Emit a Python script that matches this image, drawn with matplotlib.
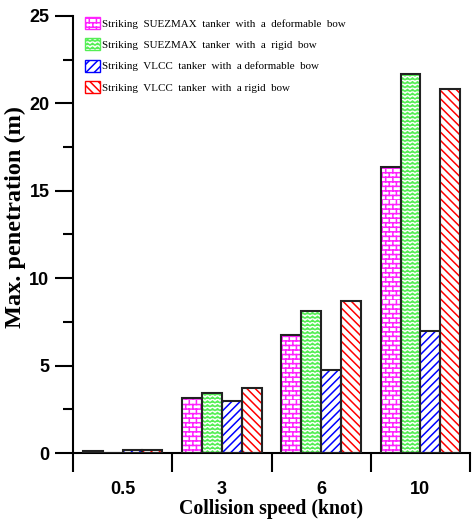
import numpy as np
import matplotlib
matplotlib.use("Agg")
import matplotlib.pyplot as plt
import matplotlib.hatch as mhatch
from matplotlib.path import Path
from matplotlib.ticker import MultipleLocator, FixedLocator

# ---------------- data ----------------
speeds = ["0.5", "3", "6", "10"]
series_names = [
    "Striking  SUEZMAX  tanker  with  a  deformable  bow",
    "Striking  SUEZMAX  tanker  with  a  rigid  bow",
    "Striking  VLCC  tanker  with  a deformable  bow",
    "Striking  VLCC  tanker  with  a rigid  bow",
]
suezmax_deformable = [0.12, 3.13, 6.77, 16.36]
suezmax_rigid = [0.0, 3.45, 8.10, 21.66]
vlcc_deformable = [0.18, 2.99, 4.75, 7.0]
vlcc_rigid = [0.18, 3.73, 8.70, 20.84]

# ---------------- custom hatches ----------------
class BrickHatch(mhatch.HatchPatternBase):
    """brick pattern, triggered by 'o'"""
    def __init__(self, hatch, density):
        n = hatch.count('o')
        self.rows = 22 * n
        self.cols = 14 * n
        self.num_vertices = (self.rows * 2 + self.rows * self.cols * 2) if n else 0

    def set_vertices_and_codes(self, vertices, codes):
        r, c = self.rows, self.cols
        i = 0
        h = 1.0 / r
        for k in range(r):
            y = k * h
            vertices[i] = (0.0, y); codes[i] = Path.MOVETO; i += 1
            vertices[i] = (1.0, y); codes[i] = Path.LINETO; i += 1
            off = 0.0 if k % 2 == 0 else 0.5
            for j in range(c):
                xx = (j + off) / c
                vertices[i] = (xx, y); codes[i] = Path.MOVETO; i += 1
                vertices[i] = (xx, y + h); codes[i] = Path.LINETO; i += 1


class WaveHatch(mhatch.HatchPatternBase):
    """wavy pattern, triggered by '*'"""
    def __init__(self, hatch, density):
        n = hatch.count('*')
        self.rows = 26 * n
        self.waves = 20
        self.pts = self.waves * 2 + 1
        self.num_vertices = self.rows * self.pts if n else 0

    def set_vertices_and_codes(self, vertices, codes):
        i = 0
        amp = 0.009
        for k in range(self.rows):
            y0 = (k + 0.5) / self.rows
            for j in range(self.pts):
                xx = j / (self.pts - 1)
                y = y0 + (amp if j % 2 else -amp)
                vertices[i] = (xx, y)
                codes[i] = Path.MOVETO if j == 0 else Path.LINETO
                i += 1


mhatch._hatch_types = [mhatch.HorizontalHatch, mhatch.VerticalHatch,
                       mhatch.NorthEastHatch, mhatch.SouthEastHatch,
                       BrickHatch, WaveHatch]

plt.rcParams['hatch.linewidth'] = 1.1

# ---------------- figure ----------------
fig = plt.figure(figsize=(4.73, 5.24), dpi=100)
ax = fig.add_axes([73 / 473, 71 / 524, (470 - 73) / 473, (453 - 16) / 524])

values = [suezmax_deformable, suezmax_rigid, vlcc_deformable, vlcc_rigid]
colors = ["#FF22FF", "#55EE55", "#0000FF", "#FF0000"]
hatches = ["o", "*", "////", "\\\\\\\\"]
x = np.arange(len(speeds))
w = 0.2
handles = []
for i, (vals, col, hat, name) in enumerate(zip(values, colors, hatches, series_names)):
    pos = x + (i - 1.5) * w
    b = ax.bar(pos, vals, w, color="white", edgecolor=col, hatch=hat,
               linewidth=0, label=name, zorder=2)
    ax.bar(pos, vals, w, fill=False, edgecolor="#222222", linewidth=1.5, zorder=3)
    handles.append(b)

ax.set_xlim(-0.5, 3.5)
ax.set_ylim(0, 25)

for s in ["top", "right"]:
    ax.spines[s].set_visible(False)
for s in ["left", "bottom"]:
    ax.spines[s].set_linewidth(1.5)

ax.yaxis.set_major_locator(MultipleLocator(5))
ax.yaxis.set_minor_locator(MultipleLocator(2.5))
ax.tick_params(axis='y', which='major', length=13, width=1.5, direction='out', pad=4)
ax.tick_params(axis='y', which='minor', length=7, width=1.5, direction='out')

ax.xaxis.set_major_locator(FixedLocator([-0.5, 0.5, 1.5, 2.5, 3.5]))
ax.xaxis.set_minor_locator(FixedLocator(list(x)))
ax.set_xticklabels([], minor=False)
ax.set_xticklabels(speeds, minor=True)
ax.tick_params(axis='x', which='major', length=14, width=1.5, direction='out')
ax.tick_params(axis='x', which='minor', length=0, pad=20)

for lab in ax.get_yticklabels() + ax.get_xticklabels(minor=True):
    lab.set_fontfamily("Liberation Sans")
    lab.set_fontweight("bold")
    lab.set_fontsize(13)

ax.set_ylabel("Max. penetration (m)", fontfamily="Liberation Serif",
              fontweight="bold", fontsize=17.5)
ax.yaxis.set_label_coords(-0.118, 0.54)
ax.set_xlabel("Collision speed (knot)", fontfamily="Liberation Serif",
              fontweight="bold", fontsize=14.3, labelpad=1)

leg = ax.legend(handles=handles, loc="upper left", bbox_to_anchor=(0.012, 1.015),
                frameon=False, prop={"family": "Liberation Serif", "size": 7.9},
                handlelength=1.3, handleheight=1.3, handletextpad=0.2,
                labelspacing=0.85, borderaxespad=0.3)
for p in leg.get_patches():
    p.set_linewidth(1.0)

fig.savefig("out.png", dpi=100)
